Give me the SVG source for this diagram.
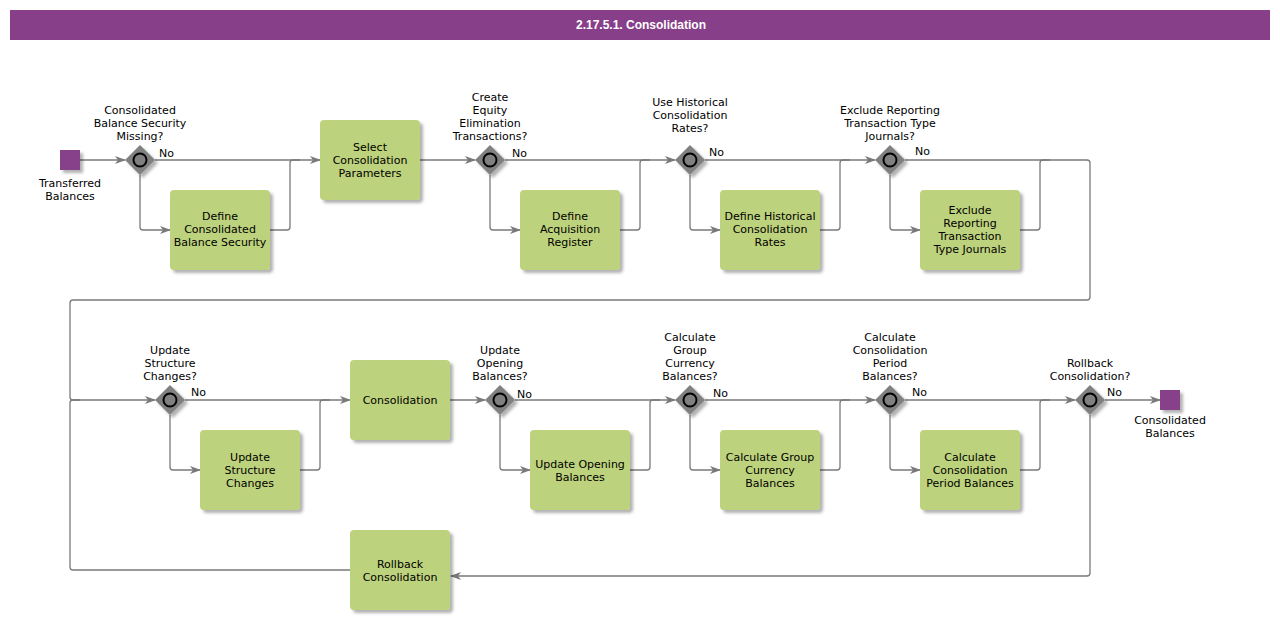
<svg xmlns="http://www.w3.org/2000/svg" width="1280" height="620" viewBox="0 0 1280 620">
<defs>
<filter id="sh" x="-20%" y="-20%" width="150%" height="150%">
<feDropShadow dx="3" dy="3" stdDeviation="1.5" flood-color="#000" flood-opacity="0.3"/>
</filter>
<marker id="arr" markerWidth="12" markerHeight="10" refX="10" refY="4" orient="auto" markerUnits="userSpaceOnUse">
<path d="M0,0 L11,4 L0,8 L3,4 Z" fill="#7a7a7a"/>
</marker>
<g id="gw">
<path d="M0,-15 L15,0 L0,15 L-15,0 Z" fill="#808080" filter="url(#sh)"/>
<circle r="6.5" fill="#808080" stroke="#000" stroke-width="2"/>
</g>
</defs>
<style>
text{font-family:"DejaVu Sans",Verdana,sans-serif;font-size:11px;fill:#000;text-anchor:middle}
.no{text-anchor:start}
.title{fill:#fff;font-weight:bold;font-size:12px;font-family:"Liberation Sans",Arial,sans-serif}
.task{fill:#bdd27b;filter:url(#sh)}
.ev{fill:#873f8a;filter:url(#sh)}
.c{fill:none;stroke:#7a7a7a;stroke-width:1.3}
.a{marker-end:url(#arr)}
</style>
<rect x="10" y="10" width="1260" height="30" fill="#873f8a"/>
<text class="title" x="641" y="29">2.17.5.1. Consolidation</text>

<g id="connectors">
<path class="c a" d="M80,160 L125,160"/>
<path class="c a" d="M155,160 L320,160"/>
<path class="c a" d="M140,175 L140,227 Q140,230 143,230 L170,230"/>
<path class="c" d="M270,230 L287,230 Q290,230 290,227 L290,163 Q290,160 293,160 L300,160"/>
<path class="c a" d="M420,160 L475,160"/>
<path class="c a" d="M505,160 L675,160"/>
<path class="c a" d="M490,175 L490,227 Q490,230 493,230 L520,230"/>
<path class="c" d="M620,230 L637,230 Q640,230 640,227 L640,163 Q640,160 643,160 L650,160"/>
<path class="c a" d="M705,160 L875,160"/>
<path class="c a" d="M690,175 L690,227 Q690,230 693,230 L720,230"/>
<path class="c" d="M820,230 L837,230 Q840,230 840,227 L840,163 Q840,160 843,160 L850,160"/>
<path class="c a" d="M905,160 L1087,160 Q1090,160 1090,163 L1090,297 Q1090,300 1087,300 L73,300 Q70,300 70,303 L70,397 Q70,400 73,400 L155,400"/>
<path class="c a" d="M890,175 L890,227 Q890,230 893,230 L920,230"/>
<path class="c" d="M1020,230 L1037,230 Q1040,230 1040,227 L1040,163 Q1040,160 1043,160 L1050,160"/>
<path class="c" d="M350,570 L73,570 Q70,570 70,567 L70,403 Q70,400 73,400 L80,400"/>
<path class="c a" d="M185,400 L350,400"/>
<path class="c a" d="M170,415 L170,467 Q170,470 173,470 L200,470"/>
<path class="c" d="M300,470 L317,470 Q320,470 320,467 L320,403 Q320,400 323,400 L330,400"/>
<path class="c a" d="M450,400 L485,400"/>
<path class="c a" d="M515,400 L675,400"/>
<path class="c a" d="M500,415 L500,467 Q500,470 503,470 L530,470"/>
<path class="c" d="M630,470 L647,470 Q650,470 650,467 L650,403 Q650,400 653,400 L660,400"/>
<path class="c a" d="M705,400 L875,400"/>
<path class="c a" d="M690,415 L690,467 Q690,470 693,470 L720,470"/>
<path class="c" d="M820,470 L837,470 Q840,470 840,467 L840,403 Q840,400 843,400 L850,400"/>
<path class="c a" d="M905,400 L1075,400"/>
<path class="c a" d="M890,415 L890,467 Q890,470 893,470 L920,470"/>
<path class="c" d="M1020,470 L1037,470 Q1040,470 1040,467 L1040,403 Q1040,400 1043,400 L1050,400"/>
<path class="c a" d="M1105,400 L1160,400"/>
<path class="c a" d="M1090,415 L1090,573 Q1090,576 1087,576 L451,576"/>
<text class="no" x="159" y="157">No</text>
<text class="no" x="512" y="157">No</text>
<text class="no" x="709" y="156">No</text>
<text class="no" x="915" y="155">No</text>
<text class="no" x="191" y="396">No</text>
<text class="no" x="517" y="398">No</text>
<text class="no" x="713" y="397">No</text>
<text class="no" x="912" y="396">No</text>
<text class="no" x="1107" y="396">No</text>
</g>

<g id="start">
<rect class="ev" x="60" y="150" width="20" height="20"/>
<text x="70" y="187">Transferred<tspan x="70" dy="13">Balances</tspan></text>
</g>
<g id="g1">
<use href="#gw" x="140" y="160"/>
<text x="140" y="114">Consolidated<tspan x="140" dy="13">Balance Security</tspan><tspan x="140" dy="13">Missing?</tspan></text>
</g>
<g id="t1">
<rect class="task" x="170" y="190" width="100" height="80" rx="4"/>
<text x="220" y="220">Define<tspan x="220" dy="13">Consolidated</tspan><tspan x="220" dy="13">Balance Security</tspan></text>
</g>
<g id="t2">
<rect class="task" x="320" y="120" width="100" height="80" rx="4"/>
<text x="370" y="151">Select<tspan x="370" dy="13">Consolidation</tspan><tspan x="370" dy="13">Parameters</tspan></text>
</g>
<g id="g2">
<use href="#gw" x="490" y="160"/>
<text x="490" y="101">Create<tspan x="490" dy="13">Equity</tspan><tspan x="490" dy="13">Elimination</tspan><tspan x="490" dy="13">Transactions?</tspan></text>
</g>
<g id="t3">
<rect class="task" x="520" y="190" width="100" height="80" rx="4"/>
<text x="570" y="220">Define<tspan x="570" dy="13">Acquisition</tspan><tspan x="570" dy="13">Register</tspan></text>
</g>
<g id="g3">
<use href="#gw" x="690" y="160"/>
<text x="690" y="106">Use Historical<tspan x="690" dy="13">Consolidation</tspan><tspan x="690" dy="13">Rates?</tspan></text>
</g>
<g id="t4">
<rect class="task" x="720" y="190" width="100" height="80" rx="4"/>
<text x="770" y="220">Define Historical<tspan x="770" dy="13">Consolidation</tspan><tspan x="770" dy="13">Rates</tspan></text>
</g>
<g id="g4">
<use href="#gw" x="890" y="160"/>
<text x="890" y="114">Exclude Reporting<tspan x="890" dy="13">Transaction Type</tspan><tspan x="890" dy="13">Journals?</tspan></text>
</g>
<g id="t5">
<rect class="task" x="920" y="190" width="100" height="80" rx="4"/>
<text x="970" y="214">Exclude<tspan x="970" dy="13">Reporting</tspan><tspan x="970" dy="13">Transaction</tspan><tspan x="970" dy="13">Type Journals</tspan></text>
</g>
<g id="g5">
<use href="#gw" x="170" y="400"/>
<text x="170" y="354">Update<tspan x="170" dy="13">Structure</tspan><tspan x="170" dy="13">Changes?</tspan></text>
</g>
<g id="t6">
<rect class="task" x="200" y="430" width="100" height="80" rx="4"/>
<text x="250" y="461">Update<tspan x="250" dy="13">Structure</tspan><tspan x="250" dy="13">Changes</tspan></text>
</g>
<g id="t7">
<rect class="task" x="350" y="360" width="100" height="80" rx="4"/>
<text x="400" y="404">Consolidation</text>
</g>
<g id="g6">
<use href="#gw" x="500" y="400"/>
<text x="500" y="354">Update<tspan x="500" dy="13">Opening</tspan><tspan x="500" dy="13">Balances?</tspan></text>
</g>
<g id="t8">
<rect class="task" x="530" y="430" width="100" height="80" rx="4"/>
<text x="580" y="468">Update Opening<tspan x="580" dy="13">Balances</tspan></text>
</g>
<g id="g7">
<use href="#gw" x="690" y="400"/>
<text x="690" y="341">Calculate<tspan x="690" dy="13">Group</tspan><tspan x="690" dy="13">Currency</tspan><tspan x="690" dy="13">Balances?</tspan></text>
</g>
<g id="t9">
<rect class="task" x="720" y="430" width="100" height="80" rx="4"/>
<text x="770" y="461">Calculate Group<tspan x="770" dy="13">Currency</tspan><tspan x="770" dy="13">Balances</tspan></text>
</g>
<g id="g8">
<use href="#gw" x="890" y="400"/>
<text x="890" y="341">Calculate<tspan x="890" dy="13">Consolidation</tspan><tspan x="890" dy="13">Period</tspan><tspan x="890" dy="13">Balances?</tspan></text>
</g>
<g id="t10">
<rect class="task" x="920" y="430" width="100" height="80" rx="4"/>
<text x="970" y="461">Calculate<tspan x="970" dy="13">Consolidation</tspan><tspan x="970" dy="13">Period Balances</tspan></text>
</g>
<g id="g9">
<use href="#gw" x="1090" y="400"/>
<text x="1090" y="367">Rollback<tspan x="1090" dy="13">Consolidation?</tspan></text>
</g>
<g id="end">
<rect class="ev" x="1160" y="390" width="20" height="20"/>
<text x="1170" y="424">Consolidated<tspan x="1170" dy="13">Balances</tspan></text>
</g>
<g id="t11">
<rect class="task" x="350" y="530" width="100" height="80" rx="4"/>
<text x="400" y="568">Rollback<tspan x="400" dy="13">Consolidation</tspan></text>
</g>
</svg>
